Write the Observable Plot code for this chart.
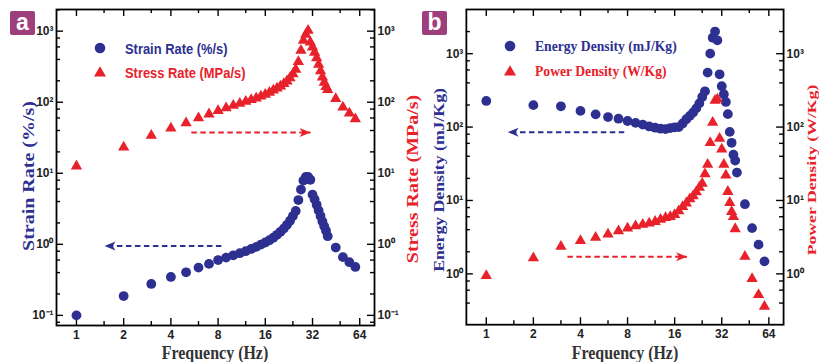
<!DOCTYPE html>
<html><head><meta charset="utf-8">
<script src="https://cdn.jsdelivr.net/npm/d3@7"></script>
<script src="https://cdn.jsdelivr.net/npm/@observablehq/plot@0.6"></script>
<style>
body{margin:0;background:#fff;}
#wrap{position:relative;width:819px;height:362px;overflow:hidden;background:#fff;font-family:"Liberation Serif","Times New Roman",serif;}
.panel{position:absolute;top:0;}
.tag{position:absolute;width:25px;height:24px;background:#9c3f7c;color:#fff;font:bold 23px "Liberation Sans",Arial,sans-serif;text-align:center;line-height:22px;border-radius:2px;}
.xt{position:absolute;font-weight:bold;font-size:19px;line-height:1;color:#333;white-space:nowrap;transform:translate(-50%,-50%) scaleX(0.84);}
.yt{position:absolute;font-weight:bold;line-height:1;white-space:nowrap;transform:translate(-50%,-50%) rotate(-90deg) scaleY(0.8);}
.leg{position:absolute;font-weight:bold;white-space:nowrap;transform-origin:0 50%;line-height:1;}
</style></head>
<body>
<div id="wrap">
  <div id="pa" class="panel" style="left:0"></div>
  <div id="pb" class="panel" style="left:410px"></div>
</div>
<script>
// ---------- data ----------
const freq = [1,2,3,4,5,6,7,8,9,10,11,12,13,14,15,16,17,18,19,20,21,22,23,24,25,26,27,28,29,30,31,32,33,34,35,36,37,38,39,40,45,50,55,60];
const strainRate = [0.10,0.187,0.277,0.347,0.404,0.47,0.53,0.60,0.65,0.70,0.75,0.80,0.86,0.92,0.99,1.06,1.14,1.24,1.36,1.50,1.67,1.88,2.15,2.50,2.95,4.2,5.9,7.9,8.9,8.9,8.1,5.0,4.3,3.6,3.0,2.5,2.1,1.8,1.55,1.3,0.9,0.66,0.56,0.48];
const stressRate = [12.6,23.3,34,43,51,60,68,76,83,90,96,102,108,114,121,128,137,147,157,168,182,198,220,250,290,370,535,740,900,1020,700,596,500,420,340,275,225,190,165,150,112,85,70,58];
const energyDensity = [227,199,192,166,149,137,130,121,114,108,102,98,95,94,97,99,100,112,128,142,158,180,210,257,307,552,1000,1650,2000,1520,523,360,280,220,150,86,61,42,35,24,8.9,4.2,2.5,1.48];
const freqPower = [1,2,3,4,5,6,7,8,9,10,11,12,13,14,15,16,17,18,19,20,21,22,23,24,25,26,27,28,29,30,31,32,33,34,35,36,37,38,39,45,50,55,60];
const powerDensity = [0.94,1.64,2.36,2.82,3.12,3.47,3.85,4.19,4.5,4.7,4.9,5.15,5.5,5.8,6.0,6.4,7.2,8.2,9.2,10.5,11.5,13,15,17,23,31,61,115,230,240,70,50,31,22,13.2,9.3,7.0,6.0,4.1,1.72,0.86,0.52,0.36];

const xTicks = [1,2,4,8,16,32,64];
const xMinor = [1.5,3,6,12,24,48];
const yTicksA = [0.1,1,10,100,1000];
const yMinorA = [0.08,0.2,0.4,0.6,0.8,2,4,6,8,20,40,60,80,200,400,600,800,2000];
const yTicksB = [1,10,100,1000];
const yMinorB = [0.4,0.6,0.8,2,4,6,8,20,40,60,80,200,400,600,800,2000];
const domainX = [0.746,79.5];
const domainYA = [0.072,2018];
const domainYB = [0.203,4000];

// dashed guide arrows: from frequency x1 to x2 at level y
const arrowsA = [{x1:5.4,x2:31.1,y:37.6,c:"red"},{x1:8.4,x2:1.51,y:0.946,c:"blue"}];
const arrowsB = [{x1:7.62,x2:1.37,y:85.3,c:"blue"},{x1:3.3,x2:19.2,y:1.71,c:"red"}];

// ---------- styling ----------
const BLUE = "#2d3091", RED = "#e8212a";
const W = 410, H = 362, ML = 56, MR = 36, MT = 9, MB = 37;
const FW = W-ML-MR, FH = H-MT-MB;
const supMap = {"-":"\u207B","0":"\u2070","1":"\u00B9","2":"\u00B2","3":"\u00B3","4":"\u2074"};
const sup = d => "10" + String(Math.round(Math.log10(d))).split("").map(c=>supMap[c]).join("");

const arrowHead = {draw(ctx){ ctx.moveTo(0,0); ctx.lineTo(4.5,11); ctx.lineTo(0,8); ctx.lineTo(-4.5,11); ctx.closePath(); }};

function ticks(yTicks, yMinor){
  const major = 7, minor = 4;
  return [
    Plot.ruleX(xTicks,{x:d=>d,insetTop:FH-major,stroke:"#000",strokeWidth:1.4}),
    Plot.ruleX(xTicks,{x:d=>d,insetBottom:FH-major,stroke:"#000",strokeWidth:1.4}),
    Plot.ruleX(xMinor,{x:d=>d,insetTop:FH-minor,stroke:"#000",strokeWidth:1.4}),
    Plot.ruleX(xMinor,{x:d=>d,insetBottom:FH-minor,stroke:"#000",strokeWidth:1.4}),
    Plot.ruleY(yTicks,{y:d=>d,insetRight:FW-major,stroke:"#000",strokeWidth:1.4}),
    Plot.ruleY(yTicks,{y:d=>d,insetLeft:FW-major,stroke:"#000",strokeWidth:1.4}),
    Plot.ruleY(yMinor,{y:d=>d,insetRight:FW-minor,stroke:"#000",strokeWidth:1.4}),
    Plot.ruleY(yMinor,{y:d=>d,insetLeft:FW-minor,stroke:"#000",strokeWidth:1.4}),
  ];
}
function arrows(list){
  return [
    Plot.link(list,{x1:"x1",x2:"x2",y1:"y",y2:"y",stroke:d=>d.c==="red"?RED:BLUE,strokeWidth:2,strokeDasharray:"5.5,3.5"}),
    Plot.dot(list,{x:"x2",y:"y",symbol:arrowHead,r:5,fill:d=>d.c==="red"?RED:BLUE,stroke:"none",rotate:d=>d.x2>d.x1?90:-90}),
  ];
}

function panel(yDomain, yTicks, yMinor, circles, triangles, arr){
  return Plot.plot({
    width:W, height:H, marginLeft:ML, marginRight:MR, marginTop:MT, marginBottom:MB,
    style:{background:"transparent",overflow:"visible",fontFamily:"'Liberation Sans',Arial,sans-serif",fontSize:"12px",fontWeight:"bold",color:"#222"},
    color:{type:"identity"},
    x:{type:"log",base:2,domain:domainX,ticks:xTicks,tickFormat:d=>String(d),tickSize:0,tickPadding:5,label:null},
    y:{type:"log",domain:yDomain,ticks:yTicks,tickFormat:sup,tickSize:0,tickPadding:3,label:null,axis:"both"},
    marks:[
      ...ticks(yTicks,yMinor),
      ...arr,
      Plot.dot(circles.x.map((x,i)=>({x,y:circles.y[i]})),{x:"x",y:"y",r:4.9,fill:BLUE,stroke:"none"}),
      Plot.dot(triangles.x.map((x,i)=>({x,y:triangles.y[i]})),{x:"x",y:"y",r:4.2,symbol:"triangle",fill:RED,stroke:"none"}),
      Plot.frame({stroke:"#000",strokeWidth:1.8}),
    ]
  });
}

document.getElementById("pa").append(panel(domainYA,yTicksA,yMinorA,{x:freq,y:strainRate},{x:freq,y:stressRate},arrows(arrowsA)));
document.getElementById("pb").append(panel(domainYB,yTicksB,yMinorB,{x:freq,y:energyDensity},{x:freqPower,y:powerDensity},arrows(arrowsB)));

// ---------- text overlays ----------
const wrap = document.getElementById("wrap");
function add(html){ wrap.insertAdjacentHTML("beforeend", html); }
add(`<div class="tag" style="left:10px;top:11px">a</div>`);
add(`<div class="tag" style="left:422px;top:11px">b</div>`);
add(`<div class="xt" style="left:215px;top:352px">Frequency (Hz)</div>`);
add(`<div class="xt" style="left:625px;top:352px">Frequency (Hz)</div>`);
add(`<div class="yt" style="left:28px;top:176px;font-size:20px;color:${BLUE}">Strain Rate (%/s)</div>`);
add(`<div class="yt" style="left:412px;top:179px;font-size:20px;color:${RED}">Stress Rate (MPa/s)</div>`);
add(`<div class="yt" style="left:440px;top:180px;font-size:17.7px;color:${BLUE}">Energy Density (mJ/Kg)</div>`);
add(`<div class="yt" style="left:812px;top:170px;font-size:17.7px;color:${RED};transform:translate(-50%,-50%) rotate(-90deg) scaleY(0.74)">Power Density (W/Kg)</div>`);
function legend(cx, cy, sym, color, text, font, size, sx){
  const shape = sym==="circle" ? `<circle cx="7" cy="7" r="5.3" fill="${color}"/>` : `<path d="M7,1.2L13,11.5L1,11.5Z" fill="${color}"/>`;
  add(`<svg style="position:absolute;left:${cx-7}px;top:${cy-7}px" width="14" height="14">${shape}</svg>`);
  add(`<div class="leg" style="left:${cx+25}px;top:${cy}px;color:${color};font-family:${font};font-size:${size}px;transform:translateY(-50%) scaleX(${sx})">${text}</div>`);
}
legend(100,47.7,"circle",BLUE,"Strain Rate (%/s)","'Liberation Sans',Arial,sans-serif",15,0.86);
legend(100,71.7,"triangle",RED,"Stress Rate (MPa/s)","'Liberation Sans',Arial,sans-serif",15,0.86);
legend(510,45.7,"circle",BLUE,"Energy Density (mJ/Kg)","'Liberation Serif','Times New Roman',serif",15.5,0.88);
legend(510,70.7,"triangle",RED,"Power Density (W/Kg)","'Liberation Serif','Times New Roman',serif",15.5,0.88);
</script>
</body></html>
